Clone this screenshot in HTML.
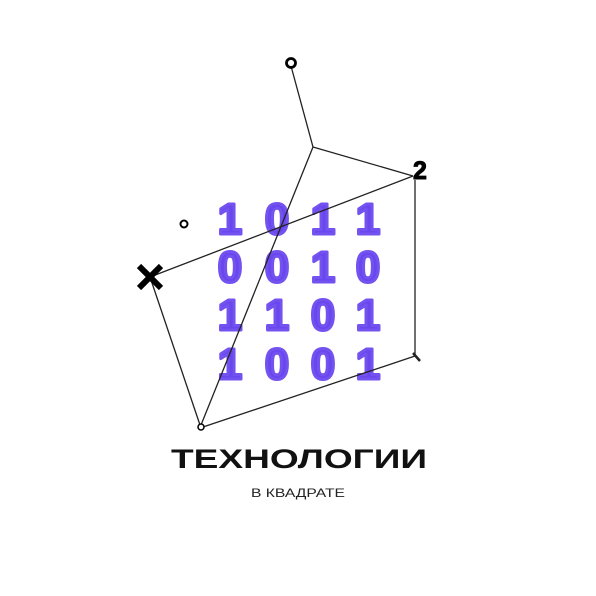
<!DOCTYPE html>
<html><head><meta charset="utf-8"><style>
html,body{margin:0;padding:0;background:#fff;width:596px;height:596px;overflow:hidden}
</style></head><body>
<svg width="596" height="596" viewBox="0 0 596 596" xmlns="http://www.w3.org/2000/svg">
<defs><linearGradient id="g" x1="0" y1="0" x2="1" y2="1"><stop offset="0" stop-color="#7a5cf5"/><stop offset="1" stop-color="#5a3fe6"/></linearGradient></defs>
<g font-family="Liberation Sans, sans-serif" font-weight="bold" font-size="44" fill="#6848ee" stroke="#7452f0" stroke-width="3" stroke-linejoin="round" text-anchor="middle">
<text x="230" y="234">1</text><text x="277" y="234">0</text><text x="323" y="234">1</text><text x="368" y="234">1</text>
<text x="230" y="282">0</text><text x="277" y="282">0</text><text x="323" y="282">1</text><text x="368" y="282">0</text>
<text x="230" y="330">1</text><text x="277" y="330">1</text><text x="323" y="330">0</text><text x="368" y="330">1</text>
<text x="230" y="379">1</text><text x="277" y="379">0</text><text x="323" y="379">0</text><text x="368" y="379">1</text>
</g>
<g stroke="#222" stroke-width="1.3" fill="none">
<line x1="291" y1="66" x2="313" y2="147"/>
<line x1="313" y1="147" x2="413" y2="176"/>
<line x1="313" y1="147" x2="201" y2="425"/>
<line x1="150" y1="277" x2="413" y2="176"/>
<line x1="150" y1="277" x2="200" y2="425"/>
<line x1="203" y1="427" x2="415" y2="356"/>
<line x1="415" y1="180" x2="415" y2="355"/>
<line x1="413" y1="353" x2="420" y2="361" stroke-width="2.5"/>
</g>
<circle cx="291" cy="63" r="4.5" fill="none" stroke="#000" stroke-width="2.8"/>
<circle cx="184" cy="224" r="3.5" fill="none" stroke="#000" stroke-width="2"/>
<circle cx="201" cy="427" r="3" fill="#fff" stroke="#000" stroke-width="1.5"/>
<g stroke="#000" stroke-width="6" stroke-linecap="butt">
<line x1="139" y1="266" x2="161" y2="288"/><line x1="161" y1="266" x2="139" y2="288"/>
</g>
<text x="420" y="179" font-family="Liberation Sans, sans-serif" font-weight="bold" font-size="25" text-anchor="middle" fill="#000" stroke="#000" stroke-width="1">2</text>
<text x="171" y="468" textLength="256" lengthAdjust="spacingAndGlyphs" font-family="Liberation Sans, sans-serif" font-weight="bold" font-size="27" fill="#111">ТЕХНОЛОГИИ</text>
<text x="251" y="497" textLength="94" lengthAdjust="spacingAndGlyphs" font-family="Liberation Sans, sans-serif" font-size="12" fill="#222">В КВАДРАТЕ</text>
</svg>
</body></html>
